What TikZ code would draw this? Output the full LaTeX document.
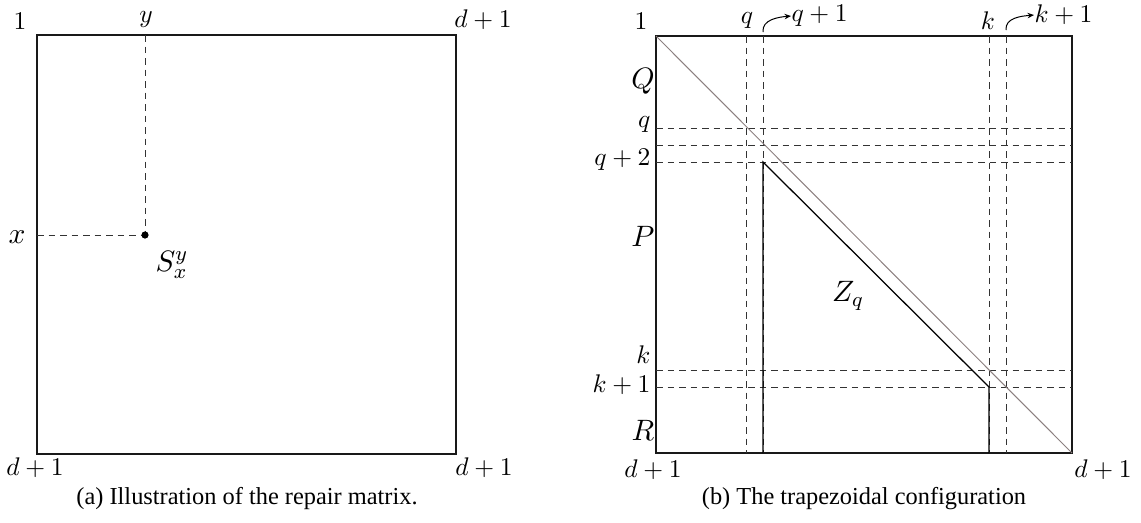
\documentclass[tikz,border=0pt]{standalone}
\usepackage{fix-cm}
\usepackage{fontspec}
\newfontfamily\capfont{Liberation Serif}
\usetikzlibrary{arrows.meta}
\begin{document}
\begin{tikzpicture}[x=0.4pt,y=-0.4pt,
  frame/.style={line width=0.8pt,draw=black!90},
  dsh/.style={line width=0.35pt,draw=black!80,dash pattern=on 2.6pt off 2pt},
  diag/.style={line width=0.4pt,draw={rgb,255:red,140;green,128;blue,128}},
  trap/.style={line width=0.5pt,draw=black},
  lbl/.style={inner sep=0pt,font=\fontsize{10.2}{12}\selectfont},
  biglbl/.style={inner sep=0pt,font=\fontsize{11.8}{14}\selectfont},
  captext/.style={inner sep=0pt,font=\capfont\fontsize{9.75}{11}\selectfont},
  arr/.style={line width=0.4pt,-{Stealth[length=2.6pt,width=2.2pt]}}]
\useasboundingbox (0,0) rectangle (1141,522);
% ---------- panel (a)
\draw[frame] (37,35) rectangle (456,454);
\coordinate (S) at (145,235);
\coordinate (Stop) at (145,35);
\coordinate (Sleft) at (37,235);
\draw[dsh] (Stop) -- (S);
\draw[dsh] (Sleft) -- (S);
\fill (S) circle (3.6);
\node[lbl] (a1) at (20,21) {$1$};
\node[lbl] (ay) at (146,19) {$y$};
\node[lbl] (atr) at (483,20) {$d+1$};
\node[biglbl] (ax) at (17,237) {$x$};
\node[biglbl] (aS) at (172,265) {$S_x^y$};
\node[lbl] (abl) at (35,468) {$d+1$};
\node[lbl] (abr) at (484,468) {$d+1$};
\node[captext] (capa) at (247,499) {(a) Illustration of the repair matrix.};
% ---------- panel (b)
\draw[frame] (656,36) rectangle (1072,453);
% dashed grid
\foreach \c in {746,763,989,1006}{\draw[dsh] (\c,36) -- (\c,453);}
\foreach \r in {128,145,162,370,387}{\draw[dsh] (656,\r) -- (1072,\r);}
\coordinate (TL) at (656,36);
\coordinate (BR) at (1072,453);
\draw[diag] (TL) -- (BR);
\coordinate (Z1) at (763,162);
\coordinate (Z2) at (989,387);
\coordinate (Z1b) at (763,453);
\coordinate (Z2b) at (989,453);
\draw[trap] (Z1b) -- (Z1) -- (Z2) -- (Z2b);
\node[lbl] (b1) at (641,21) {$1$};
\node[lbl] (bq) at (747,20) {$q$};
\node[lbl,anchor=west] (bq1) at (791,16) {$q+1$};
\node[lbl] (bk) at (988,21) {$k$};
\node[lbl,anchor=west] (bk1) at (1034,15) {$k+1$};
\coordinate (aq) at (763,32);
\coordinate (ak) at (1006,30);
\draw[arr] (aq) to[out=95,in=185] (bq1.west);
\draw[arr] (ak) to[out=95,in=185] (bk1.west);
\node[biglbl] (bQ) at (643,81) {$Q$};
\node[lbl,anchor=east] (bql) at (651,124) {$q$};
\node[lbl,anchor=east] (bq2) at (651,160) {$q+2$};
\node[biglbl] (bP) at (643,236) {$P$};
\node[biglbl] (bZ) at (848,296) {$Z_q$};
\node[lbl,anchor=east] (bkl) at (651,355) {$k$};
\node[lbl,anchor=east] (bk1l) at (651,385) {$k+1$};
\node[biglbl] (bR) at (643,430) {$R$};
\node[lbl] (bbl) at (653,470) {$d+1$};
\node[lbl] (bbr) at (1103,470) {$d+1$};
\node[captext] (capb) at (864,499) {(b) The trapezoidal configuration};
\end{tikzpicture}
\end{document}
